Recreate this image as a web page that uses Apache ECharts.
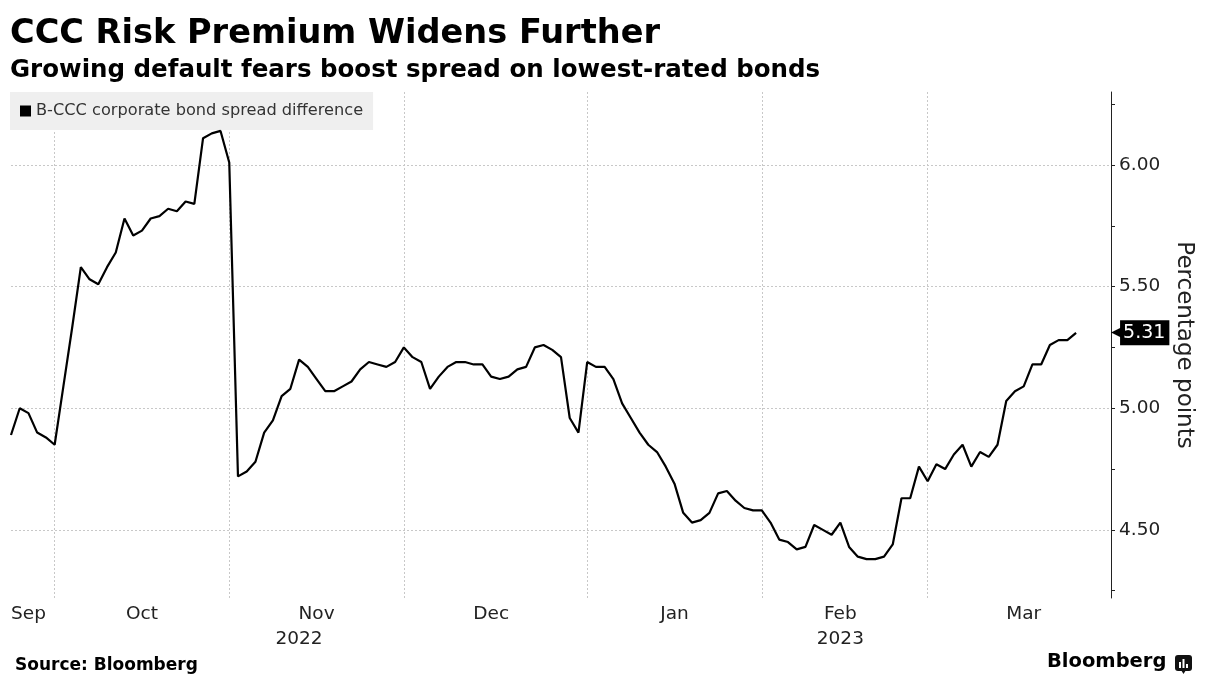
<!DOCTYPE html>
<html><head><meta charset="utf-8">
<script src="https://cdn.jsdelivr.net/npm/echarts@6/dist/echarts.min.js"></script>
<style>html,body{margin:0;padding:0;background:#fff}#c{width:1207px;height:690px}</style>
</head><body><div id="c"></div>
<script>
const chartTitle = 'CCC Risk Premium Widens Further';
const chartSubtitle = 'Growing default fears boost spread on lowest-rated bonds';
const seriesName = 'B-CCC corporate bond spread difference';
const axisName = 'Percentage points';
const sourceText = 'Source: Bloomberg';
const firstDate = '2022-09-26';
const lastDate = '2023-03-30';
const holidays = ['2022-10-10','2022-11-11','2022-11-24','2022-12-26','2023-01-02','2023-01-16','2023-02-20'];
const spread = [
4.89, 5.00, 4.98, 4.90, 4.88, 4.85, 5.09, 5.33, 5.58, 5.53,
5.51, 5.58, 5.64, 5.78, 5.71, 5.73, 5.78, 5.79, 5.82, 5.81,
5.85, 5.84, 6.11, 6.13, 6.14, 6.01, 4.72, 4.74, 4.78, 4.90,
4.95, 5.05, 5.08, 5.20, 5.17, 5.12, 5.07, 5.07, 5.09, 5.11,
5.16, 5.19, 5.18, 5.17, 5.19, 5.25, 5.21, 5.19, 5.08, 5.13,
5.17, 5.19, 5.19, 5.18, 5.18, 5.13, 5.12, 5.13, 5.16, 5.17,
5.25, 5.26, 5.24, 5.21, 4.96, 4.90, 5.19, 5.17, 5.17, 5.12,
5.02, 4.96, 4.90, 4.85, 4.82, 4.76, 4.69, 4.57, 4.53, 4.54,
4.57, 4.65, 4.66, 4.62, 4.59, 4.58, 4.58, 4.53, 4.46, 4.45,
4.42, 4.43, 4.52, 4.50, 4.48, 4.53, 4.43, 4.39, 4.38, 4.38,
4.39, 4.44, 4.63, 4.63, 4.76, 4.70, 4.77, 4.75, 4.81, 4.85,
4.76, 4.82, 4.80, 4.85, 5.03, 5.07, 5.09, 5.18, 5.18, 5.26,
5.28, 5.28, 5.31
];
const monthLabelDates = ['2022-09-28','2022-10-18','2022-11-16','2022-12-15','2023-01-18','2023-02-14','2023-03-16'];
const yearLabelDates = ['2022-11-14','2023-02-14'];
const monthNames = ['Jan','Feb','Mar','Apr','May','Jun','Jul','Aug','Sep','Oct','Nov','Dec'];
const yMin = 4.22, yMax = 6.30;
const yLabelTicks = [4.5, 5.0, 5.5, 6.0];
const yAllTicks = [4.25, 4.5, 4.75, 5.0, 5.25, 5.5, 5.75, 6.0, 6.25];

function businessDays(a, b, hol) {
  const out = [];
  const d = new Date(a + 'T00:00:00Z');
  const end = new Date(b + 'T00:00:00Z');
  while (d <= end) {
    const wd = d.getUTCDay();
    const s = d.toISOString().slice(0, 10);
    if (wd !== 0 && wd !== 6 && hol.indexOf(s) < 0) out.push(s);
    d.setUTCDate(d.getUTCDate() + 1);
  }
  return out;
}
const dates = businessDays(firstDate, lastDate, holidays);
const lastValue = spread[spread.length - 1];
const FONT = 'DejaVu Sans';
const grid = {left: 11, right: 96, top: 92, bottom: 92};
const dotted = {color: '#c8c8c8', width: 1, type: [2, 2]};

const chart = echarts.init(document.getElementById('c'));
chart.setOption({
  animation: false,
  backgroundColor: '#fff',
  title: [
    {text: chartTitle, left: 10, top: 17, padding: 0, textStyle: {fontFamily: FONT, fontSize: 33.6, fontWeight: 'bold', color: '#000'}},
    {text: chartSubtitle, left: 10, top: 58, padding: 0, textStyle: {fontFamily: FONT, fontSize: 24.5, fontWeight: 'bold', color: '#000'}},
    {text: sourceText, left: 15, top: 657, padding: 0, textStyle: {fontFamily: FONT, fontSize: 17, fontWeight: 'bold', color: '#000'}},
    {text: 'Bloomberg', left: 1047, top: 652, padding: 0, textStyle: {fontFamily: FONT, fontSize: 19.5, fontWeight: 'bold', color: '#000'}}
  ],
  graphic: [{
    type: 'group', left: 1175, top: 655,
    children: [
      {type: 'rect', shape: {x: 0, y: 0, width: 17, height: 16, r: 3}, style: {fill: '#111'}},
      {type: 'polygon', shape: {points: [[6, 15], [11, 15], [8.5, 19]]}, style: {fill: '#111'}},
      {type: 'rect', shape: {x: 4, y: 7, width: 2, height: 6}, style: {fill: '#fff'}},
      {type: 'rect', shape: {x: 7.5, y: 4, width: 2, height: 9}, style: {fill: '#fff'}},
      {type: 'rect', shape: {x: 11, y: 9, width: 2, height: 4}, style: {fill: '#fff'}}
    ]
  }],
  legend: {
    left: 10, top: 92, padding: [11, 10, 11, 10],
    backgroundColor: '#efefef',
    itemWidth: 11, itemHeight: 11, itemGap: 10,
    textStyle: {fontFamily: FONT, fontSize: 16.2, color: '#333', padding: [0, 0, 0, 0]},
    data: [{name: seriesName, icon: 'rect'}]
  },
  grid: grid,
  xAxis: [
    {
      type: 'category', data: dates, boundaryGap: false,
      axisLine: {show: false}, axisTick: {show: false},
      axisLabel: {
        interval: (i, v) => monthLabelDates.indexOf(v) >= 0,
        formatter: v => monthNames[parseInt(v.slice(5, 7), 10) - 1],
        fontFamily: FONT, fontSize: 18.5, color: '#222', margin: 7
      },
      splitLine: {
        show: true,
        interval: (i, v) => i > 0 && dates[i - 1].slice(0, 7) !== v.slice(0, 7),
        lineStyle: dotted
      }
    },
    {
      type: 'category', data: dates, boundaryGap: false, position: 'bottom', offset: 25,
      axisLine: {show: false}, axisTick: {show: false}, splitLine: {show: false},
      axisLabel: {
        interval: (i, v) => yearLabelDates.indexOf(v) >= 0,
        formatter: v => v.slice(0, 4),
        fontFamily: FONT, fontSize: 18.5, color: '#222', margin: 7
      }
    }
  ],
  yAxis: [
    {
      type: 'value', position: 'right', min: yMin, max: yMax,
      name: axisName, nameLocation: 'middle', nameRotate: -90, nameGap: 61,
      nameTextStyle: {fontFamily: FONT, fontSize: 23, color: '#222'},
      axisLine: {show: true, lineStyle: {color: '#222', width: 1}},
      axisTick: {show: true, customValues: yAllTicks, length: 4, lineStyle: {color: '#222'}},
      axisLabel: {customValues: yLabelTicks, formatter: v => v.toFixed(2), fontFamily: FONT, fontSize: 18.5, color: '#222', margin: 8},
      splitLine: {show: false}
    },
    {
      type: 'value', position: 'right', min: yMin, max: yMax,
      axisLine: {show: false},
      axisTick: {show: false, customValues: yLabelTicks},
      axisLabel: {show: false},
      splitLine: {show: true, lineStyle: dotted}
    },
    {
      type: 'value', position: 'right', min: yMin, max: yMax,
      axisLine: {show: false}, axisTick: {show: false}, splitLine: {show: false},
      axisLabel: {
        customValues: [lastValue], margin: 0,
        formatter: v => '{a|\u25C0}{b|' + v.toFixed(2) + '}',
        rich: {
          a: {color: '#000', fontSize: 17, fontFamily: FONT, padding: [0, -4, 0, 0]},
          b: {color: '#fff', backgroundColor: '#000', fontSize: 19, lineHeight: 19, fontFamily: FONT, padding: [3, 4, 3, 3]}
        }
      }
    }
  ],
  series: [{
    name: seriesName, type: 'line', data: spread,
    xAxisIndex: 0, yAxisIndex: 0,
    showSymbol: false, symbol: 'none',
    lineStyle: {color: '#000', width: 2.2},
    itemStyle: {color: '#000'},
    z: 5
  }]
});
</script></body></html>
